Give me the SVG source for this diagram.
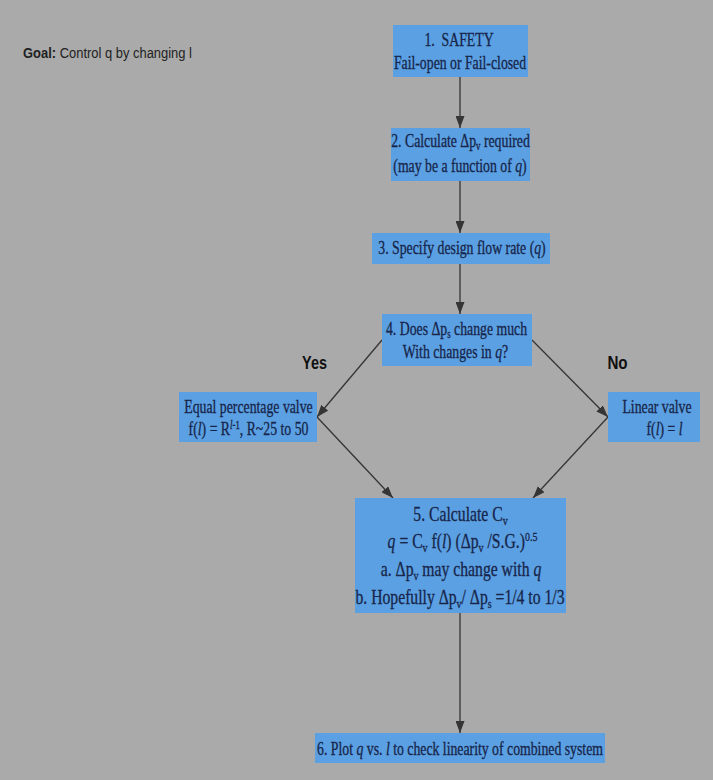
<svg xmlns="http://www.w3.org/2000/svg" width="713" height="780" viewBox="0 0 713 780">
<style>
.box{fill:#5ba0e2;stroke:none}
.t{font-family:"Liberation Serif","Times New Roman",serif;font-size:18px;fill:#17254a;stroke:#17254a;stroke-width:0.3;text-anchor:middle}
.t5{font-size:20.5px}
.s{font-size:11.5px}
.s5{font-size:13px}
.i{font-style:italic}
.lbl{font-family:"Liberation Sans",Arial,sans-serif;font-weight:bold;font-size:19px;fill:#111;text-anchor:middle}
.goal{font-family:"Liberation Sans",Arial,sans-serif;font-size:15px;fill:#222}
.edge{stroke:#353535;stroke-width:1.3;fill:none;marker-end:url(#ah)}
</style>
<defs>
<marker id="ah" markerUnits="userSpaceOnUse" markerWidth="12" markerHeight="9" refX="12" refY="4.5" orient="auto">
<path d="M0,0 L12,4.5 L0,9 Z" fill="#353535"/>
</marker>
</defs>
<rect x="0" y="0" width="713" height="780" fill="#aaaaaa"/>
<text class="goal" transform="matrix(0.863,0,0,1,23,58)" x="0" y="0"><tspan font-weight="bold">Goal:</tspan> Control q by changing l</text>
<g id="connectors">
<line class="edge" x1="460" y1="77" x2="460" y2="128"/>
<line class="edge" x1="460" y1="181" x2="460" y2="233"/>
<line class="edge" x1="460" y1="264" x2="460" y2="314"/>
<line class="edge" x1="382" y1="340" x2="317" y2="417"/>
<line class="edge" x1="532" y1="340" x2="608" y2="417"/>
<line class="edge" x1="317" y1="417" x2="393" y2="498"/>
<line class="edge" x1="608" y1="417" x2="533" y2="498"/>
<line class="edge" x1="460" y1="613" x2="460" y2="733"/>
</g>
<g id="n1">
<rect class="box" x="393" y="25" width="135" height="52"/>
<text class="t" transform="matrix(0.765,0,0,1,459,46)" x="0" y="0" xml:space="preserve">1.  SAFETY</text>
<text class="t" transform="matrix(0.765,0,0,1,460,69)" x="0" y="0">Fail-open or Fail-closed</text>
</g>
<g id="n2">
<rect class="box" x="391" y="128" width="139" height="53"/>
<text class="t" transform="matrix(0.765,0,0,1,460.5,147)" x="0" y="0">2. Calculate Δp<tspan class="s" dy="3">v</tspan><tspan dy="-3"> required</tspan></text>
<text class="t" transform="matrix(0.765,0,0,1,460,172)" x="0" y="0">(may be a function of <tspan class="i">q</tspan>)</text>
</g>
<g id="n3">
<rect class="box" x="372" y="233" width="178" height="31"/>
<text class="t" transform="matrix(0.765,0,0,1,462,254)" x="0" y="0">3. Specify design flow rate (<tspan class="i">q</tspan>)</text>
</g>
<g id="n4">
<rect class="box" x="382" y="314" width="150" height="52"/>
<text class="t" transform="matrix(0.765,0,0,1,456.5,335)" x="0" y="0">4. Does Δp<tspan class="s" dy="3">s</tspan><tspan dy="-3"> change much</tspan></text>
<text class="t" transform="matrix(0.765,0,0,1,455.5,358)" x="0" y="0">With changes in <tspan class="i">q</tspan>?</text>
</g>
<text class="lbl" transform="matrix(0.76,0,0,1,314.5,369)" x="0" y="0">Yes</text>
<text class="lbl" transform="matrix(0.8,0,0,1,617.5,369)" x="0" y="0">No</text>
<g id="n_eq">
<rect class="box" x="179" y="392" width="138" height="50"/>
<text class="t" transform="matrix(0.765,0,0,1,248.5,413)" x="0" y="0">Equal percentage valve</text>
<text class="t" transform="matrix(0.765,0,0,1,248.5,435)" x="0" y="0">f(<tspan class="i">l</tspan>) = R<tspan class="s" dy="-6"><tspan class="i">l</tspan>-1</tspan><tspan dy="6">, R~25 to 50</tspan></text>
</g>
<g id="n_lin">
<rect class="box" x="608" y="392" width="92" height="50"/>
<text class="t" transform="matrix(0.765,0,0,1,657,413)" x="0" y="0">Linear valve</text>
<text class="t" transform="matrix(0.765,0,0,1,664.5,435)" x="0" y="0">f(<tspan class="i">l</tspan>) = <tspan class="i">l</tspan></text>
</g>
<g id="n5">
<rect class="box" x="355" y="498" width="211" height="115"/>
<text class="t t5" transform="matrix(0.765,0,0,1,460.5,521)" x="0" y="0">5. Calculate C<tspan class="s5" dy="4">v</tspan></text>
<text class="t t5" transform="matrix(0.765,0,0,1,462.5,548)" x="0" y="0"><tspan class="i">q</tspan> = C<tspan class="s5" dy="4">v</tspan><tspan dy="-4"> f(</tspan><tspan class="i">l</tspan>) (Δp<tspan class="s5" dy="4">v</tspan><tspan dy="-4"> /S.G.)</tspan><tspan class="s5" dy="-7">0.5</tspan></text>
<text class="t t5" transform="matrix(0.765,0,0,1,461,576)" x="0" y="0">a. Δp<tspan class="s5" dy="4">v</tspan><tspan dy="-4"> may change with </tspan><tspan class="i">q</tspan></text>
<text class="t t5" transform="matrix(0.765,0,0,1,460,604)" x="0" y="0">b. Hopefully Δp<tspan class="s5" dy="4">v</tspan><tspan dy="-4">/ Δp</tspan><tspan class="s5" dy="4">s</tspan><tspan dy="-4"> =1/4 to 1/3</tspan></text>
</g>
<g id="n6">
<rect class="box" x="315" y="733" width="290" height="30"/>
<text class="t" transform="matrix(0.765,0,0,1,460,755)" x="0" y="0">6. Plot <tspan class="i">q</tspan> vs. <tspan class="i">l</tspan> to check linearity of combined system</text>
</g>
</svg>
